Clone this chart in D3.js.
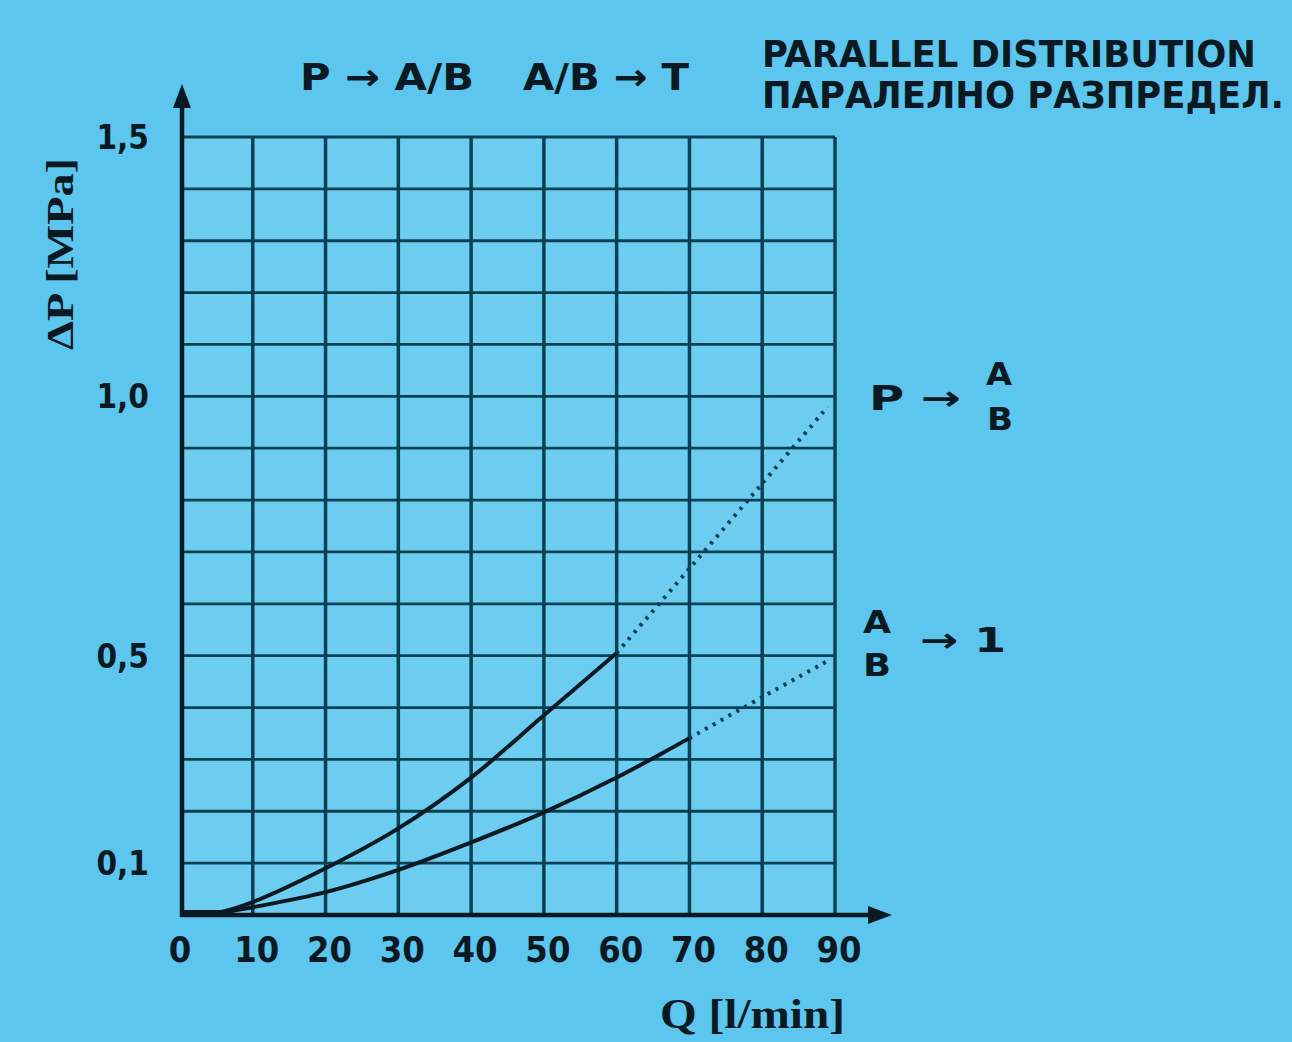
<!DOCTYPE html>
<html>
<head>
<meta charset="utf-8">
<script src="https://cdn.jsdelivr.net/npm/d3@7"></script>
<style>
  body { margin: 0; background: #5cc6ee; }
  svg { display: block; }
  .sans { font-family: "Liberation Sans Narrow", "DejaVu Sans Condensed", "Liberation Sans", sans-serif; font-weight: bold; fill: #0b1a22; }
  .serif { font-family: "Liberation Serif", "DejaVu Serif", serif; font-weight: bold; fill: #0b1a22; }
</style>
</head>
<body>
<svg id="chart"></svg>
<script>
// flow Q [l/min] and pressure drop dP [MPa]
const pabFlow = [0, 5, 10, 20, 30, 40, 50, 60]
const pabSolid = [0, 0.004, 0.025, 0.09, 0.167, 0.265, 0.385, 0.505]
const pabDotFlow = [60, 70, 80, 89]
const pabDotted = [0.505, 0.668, 0.832, 0.98]

const abtFlow = [0, 5, 10, 20, 30, 40, 50, 60, 70]
const abtSolid = [0, 0.003, 0.015, 0.044, 0.087, 0.14, 0.198, 0.265, 0.341]
const abtDotFlow = [70, 80, 89]
const abtDotted = [0.341, 0.42, 0.49]

const xTicks = [0, 10, 20, 30, 40, 50, 60, 70, 80, 90]
const xGrid = [10, 20, 30, 40, 50, 60, 70, 80, 90]
const yTicks = [0.1, 0.5, 1.0, 1.5]
const yGrid = d3.range(1, 16).map(i => i / 10)

const W = 1292, H = 1042
const svg = d3.select("#chart").attr("width", W).attr("height", H)

svg.append("rect").attr("width", W).attr("height", H).attr("fill", "#5cc6ee")

const x = d3.scaleLinear().domain([0, 90]).range([180, 835])
const y = d3.scaleLinear().domain([0, 1.5]).range([915, 137])

// slightly lighter plot area
svg.append("rect")
  .attr("x", x(0)).attr("y", y(1.5))
  .attr("width", x(90) - x(0)).attr("height", y(0) - y(1.5))
  .attr("fill", "#6ccdf1")

const ink = "#0b1a22", gridInk = "#0a4152"

// grid
svg.append("g").selectAll("line").data(xGrid).enter().append("line")
  .attr("x1", d => x(d)).attr("x2", d => x(d))
  .attr("y1", y(0)).attr("y2", y(1.5))
  .attr("stroke", gridInk).attr("stroke-width", 3.5)
svg.append("g").selectAll("line").data(yGrid).enter().append("line")
  .attr("x1", x(0)).attr("x2", x(90))
  .attr("y1", d => y(d)).attr("y2", d => y(d))
  .attr("stroke", gridInk).attr("stroke-width", 2.8)

// axes with arrows
svg.append("line")
  .attr("x1", x(0) + 2).attr("x2", x(0) + 2)
  .attr("y1", y(0) + 2).attr("y2", 100)
  .attr("stroke", ink).attr("stroke-width", 4.5)
svg.append("path")
  .attr("d", `M${x(0) + 2},84 L${x(0) - 7},108 L${x(0) + 11},108 Z`)
  .attr("fill", ink)
svg.append("line")
  .attr("x1", x(0)).attr("x2", 875)
  .attr("y1", y(0)).attr("y2", y(0))
  .attr("stroke", ink).attr("stroke-width", 4.5)
svg.append("path")
  .attr("d", `M892,${y(0)} L868,${y(0) - 9} L868,${y(0) + 9} Z`)
  .attr("fill", ink)

// curves
const line = d3.line().x(d => x(d[0])).y(d => y(d[1])).curve(d3.curveCatmullRom.alpha(0.5))
const zip = (a, b) => a.map((v, i) => [v, b[i]])

svg.append("path").datum(zip(pabFlow, pabSolid)).attr("d", line)
  .attr("fill", "none").attr("stroke", ink).attr("stroke-width", 4)
svg.append("path").datum(zip(abtFlow, abtSolid)).attr("d", line)
  .attr("fill", "none").attr("stroke", ink).attr("stroke-width", 4)
svg.append("path").datum(zip(pabDotFlow, pabDotted)).attr("d", line)
  .attr("fill", "none").attr("stroke", gridInk).attr("stroke-width", 4)
  .attr("stroke-dasharray", "3,6")
svg.append("path").datum(zip(abtDotFlow, abtDotted)).attr("d", line)
  .attr("fill", "none").attr("stroke", gridInk).attr("stroke-width", 4)
  .attr("stroke-dasharray", "3,6")
// thick start at origin
svg.append("line")
  .attr("x1", x(0)).attr("x2", x(7))
  .attr("y1", y(0) - 2).attr("y2", y(0) - 2)
  .attr("stroke", ink).attr("stroke-width", 6)

// tick labels
svg.append("g").selectAll("text").data(xTicks).enter().append("text")
  .attr("class", "sans")
  .attr("x", d => x(d) + (d === 0 ? 0 : 4)).attr("y", 962)
  .attr("text-anchor", "middle").attr("font-size", 36)
  .text(d => d)
svg.append("g").selectAll("text").data(yTicks).enter().append("text")
  .attr("class", "sans")
  .attr("x", 149).attr("y", d => y(d) + 12)
  .attr("text-anchor", "end").attr("font-size", 33)
  .text(d => d3.format(".1f")(d).replace(".", ","))

// axis titles
svg.append("text").attr("class", "serif")
  .attr("x", 660).attr("y", 1028).attr("font-size", 42)
  .attr("textLength", 185).attr("lengthAdjust", "spacingAndGlyphs")
  .text("Q [l/min]")
svg.append("text").attr("class", "serif")
  .attr("transform", "translate(73,350) rotate(-90)")
  .attr("font-size", 38)
  .attr("textLength", 192).attr("lengthAdjust", "spacingAndGlyphs")
  .text("ΔP [MPa]")

// headings
const label = (t, x0, y0, w, size) => svg.append("text").attr("class", "sans")
  .attr("x", x0).attr("y", y0).attr("font-size", size)
  .attr("textLength", w).attr("lengthAdjust", "spacingAndGlyphs").text(t)

label("P → A/B", 300, 90, 174, 37)
label("A/B → T", 523, 90, 166, 37)
label("PARALLEL DISTRIBUTION", 762, 67, 494, 37)
label("ПАРАЛЕЛНО РАЗПРЕДЕЛ.", 762, 108, 522, 37)

// curve labels
label("P →", 869, 410, 92, 34)
label("A", 986, 385, 26, 32)
label("B", 987, 430, 26, 32)
label("A", 863, 633, 28, 32)
label("B", 863, 676, 28, 32)
label("→ 1", 920, 652, 86, 34)
</script>
</body>
</html>
